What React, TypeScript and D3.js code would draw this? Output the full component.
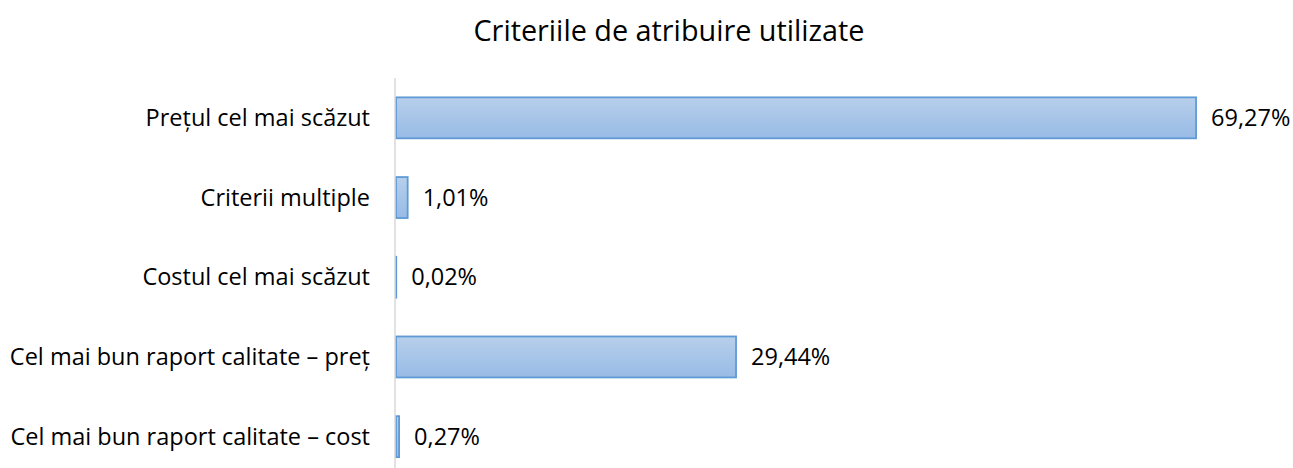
import * as d3 from "d3";
import { useEffect, useRef } from "react";

const categories = [
  "Prețul cel mai scăzut",
  "Criterii multiple",
  "Costul cel mai scăzut",
  "Cel mai bun raport calitate – preț",
  "Cel mai bun raport calitate – cost",
];
const values = [69.27, 1.01, 0.02, 29.44, 0.27];
const valueLabels = ["69,27%", "1,01%", "0,02%", "29,44%", "0,27%"];
const title = "Criteriile de atribuire utilizate";

export default function App() {
  const svgRef = useRef<SVGSVGElement | null>(null);

  useEffect(() => {
    const width = 1293;
    const height = 468;
    const font = "'Open Sans', 'Noto Sans', sans-serif";

    const svg = d3.select(svgRef.current);
    svg.selectAll("*").remove();
    svg.attr("width", width).attr("height", height);

    const defs = svg.append("defs");
    const grad = defs
      .append("linearGradient")
      .attr("id", "barGrad")
      .attr("x1", 0)
      .attr("y1", 0)
      .attr("x2", 0)
      .attr("y2", 1);
    grad.append("stop").attr("offset", "0%").attr("stop-color", "#b7cfeb");
    grad.append("stop").attr("offset", "100%").attr("stop-color", "#98bbe5");

    const x = d3.scaleLinear().domain([0, 70]).range([396, 396 + 70 * 11.55]);

    const y = d3
      .scaleBand()
      .domain(categories)
      .range([78, 476.5])
      .paddingInner(0.486)
      .paddingOuter(0.243);

    const data = categories.map((c, i) => ({ name: c, value: values[i], label: valueLabels[i] }));

    svg
      .append("text")
      .attr("x", 669)
      .attr("y", 41)
      .attr("text-anchor", "middle")
      .style("font-family", font)
      .style("font-size", "28.8px")
      .attr("fill", "#000")
      .text(title);

    svg
      .append("g")
      .selectAll("rect")
      .data(data)
      .join("rect")
      .attr("x", x(0))
      .attr("y", (d) => y(d.name)!)
      .attr("width", (d) => x(d.value) - x(0))
      .attr("height", y.bandwidth())
      .attr("fill", "url(#barGrad)")
      .attr("stroke", "#5f9ad6")
      .attr("stroke-width", 1.8);

    svg
      .append("line")
      .attr("x1", 395)
      .attr("x2", 395)
      .attr("y1", 78)
      .attr("y2", height)
      .attr("stroke", "#d9d9d9")
      .attr("stroke-width", 1.5);

    svg
      .append("g")
      .selectAll("text")
      .data(data)
      .join("text")
      .attr("x", 370)
      .attr("y", (d) => y(d.name)! + y.bandwidth() / 2)
      .attr("dy", "0.35em")
      .attr("text-anchor", "end")
      .style("font-family", font)
      .style("font-size", "23.5px")
      .attr("fill", "#000")
      .text((d) => d.name);

    svg
      .append("g")
      .selectAll("text")
      .data(data)
      .join("text")
      .attr("x", (d) => x(d.value) + 15)
      .attr("y", (d) => y(d.name)! + y.bandwidth() / 2)
      .attr("dy", "0.35em")
      .style("font-family", font)
      .style("font-size", "23.5px")
      .attr("fill", "#000")
      .text((d) => d.label);
  }, []);

  return (
    <div style={{ position: "absolute", left: 0, top: 0 }}>
      <svg ref={svgRef} style={{ display: "block" }}></svg>
    </div>
  );
}
